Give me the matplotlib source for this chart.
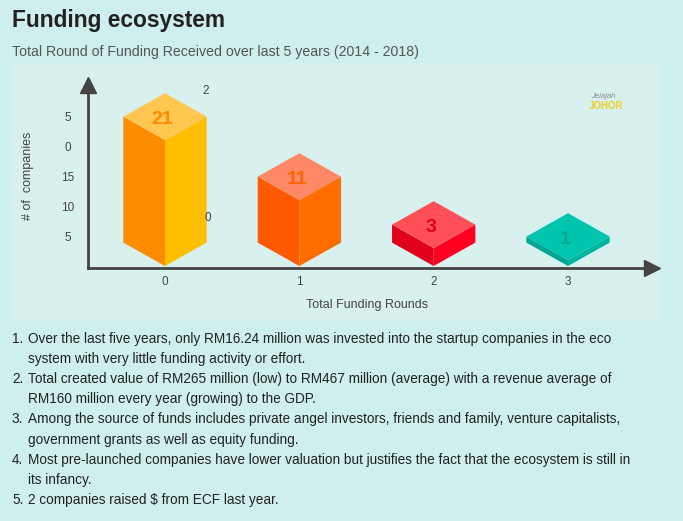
import matplotlib
matplotlib.use("Agg")
import matplotlib.pyplot as plt
from matplotlib.patches import Polygon, Rectangle

plt.rcParams["font.family"] = ["Liberation Sans", "DejaVu Sans"]

# ── Data ──────────────────────────────────────────────────────────────────────
rounds = [0, 1, 2, 3]
round_labels = ["0", "1", "2", "3"]
companies = [21, 11, 3, 1]

# y tick labels as printed in the source graphic (the "2"s drifted away)
ytick_values = [5, 10, 15, 20, 25]
ytick_labels = ["5", "10", "15", "0", "5"]

left_colors = ["#ff8c00", "#ff5a00", "#e0001c", "#00a694"]
right_colors = ["#ffbf00", "#ff6c00", "#ff0022", "#00b6a0"]
top_colors = ["#ffc650", "#ff8866", "#ff4f58", "#00c5ae"]
label_colors = ["#ff8a00", "#ff6400", "#e0001c", "#00a694"]

notes = [
    ("1.", ["Over the last five years, only RM16.24 million was invested into the startup companies in the eco",
            "system with very little funding activity or effort."]),
    ("2.", ["Total created value of RM265 million (low) to RM467 million (average) with a revenue average of",
            "RM160 million every year (growing) to the GDP."]),
    ("3.", ["Among the source of funds includes private angel investors, friends and family, venture capitalists,",
            "government grants as well as equity funding."]),
    ("4.", ["Most pre-launched companies have lower valuation but justifies the fact that the ecosystem is still in",
            "its infancy."]),
    ("5.", ["2 companies raised $ from ECF last year."]),
]

# ── Layout helpers (pixels -> figure fraction) ────────────────────────────────
W, H = 683, 521
OUTER_BG = "#ceefed"
PANEL_BG = "#d8f1ef"
AXIS_COL = "#444444"


def fx(x):
    return x / W


def fy(y):
    return 1 - y / H


fig = plt.figure(figsize=(W / 100, H / 100), dpi=100, facecolor=OUTER_BG)

# chart panel (drawn below the axes)
fig.patches.append(Rectangle((fx(12), fy(321)), (660 - 12) / W, (321 - 63) / H,
                             transform=fig.transFigure, facecolor=PANEL_BG,
                             edgecolor="none", zorder=-5))

fig.text(fx(12), fy(20), "Funding ecosystem", fontsize=16.4, fontweight="bold",
         color="#222222", va="center", ha="left")
fig.text(fx(12), fy(52), "Total Round of Funding Received over last 5 years (2014 - 2018)",
         fontsize=10.2, color="#555555", va="center", ha="left")

# ── Chart ─────────────────────────────────────────────────────────────────────
ax_left, ax_right, ax_top, ax_bottom = 88, 652, 85, 268
ax = fig.add_axes([fx(ax_left), fy(ax_bottom), (ax_right - ax_left) / W, (ax_bottom - ax_top) / H])
ax.set_facecolor("none")
ax.set_xlim(-0.573, 3.625)
ax.set_ylim(-0.333, 30.17)

HALF_W = 0.31   # half width of the box (x units)
RISE = 3.9      # isometric rise of the side corners (y units)

for x, v, cl, cr, ct, cl_txt in zip(rounds, companies, left_colors, right_colors,
                                     top_colors, label_colors):
    left = [(x, 0), (x, v), (x - HALF_W, v + RISE), (x - HALF_W, RISE)]
    right = [(x, 0), (x, v), (x + HALF_W, v + RISE), (x + HALF_W, RISE)]
    top = [(x, v), (x + HALF_W, v + RISE), (x, v + 2 * RISE), (x - HALF_W, v + RISE)]
    ax.add_patch(Polygon(left, closed=True, facecolor=cl, edgecolor="none", zorder=2))
    ax.add_patch(Polygon(right, closed=True, facecolor=cr, edgecolor="none", zorder=2))
    ax.add_patch(Polygon(top, closed=True, facecolor=ct, edgecolor="none", zorder=2))
    ax.text(x - 0.02, v + RISE - 0.4, str(v), ha="center", va="center",
            fontsize=14, fontweight="bold", color=cl_txt, zorder=3)

for side in ["top", "right"]:
    ax.spines[side].set_visible(False)
for side in ["left", "bottom"]:
    ax.spines[side].set_color(AXIS_COL)
    ax.spines[side].set_linewidth(2)

ax.plot(1, 0, marker=">", ms=11, color=AXIS_COL, transform=ax.transAxes, clip_on=False)
ax.plot(0, 1, marker="^", ms=11, color=AXIS_COL, transform=ax.transAxes, clip_on=False)

ax.set_xticks(rounds, round_labels)
ax.set_yticks(ytick_values, ytick_labels)
ax.tick_params(axis="x", length=0, pad=6, labelsize=8.5, labelcolor=AXIS_COL)
ax.tick_params(axis="y", length=0, pad=14.4, labelsize=8.5, labelcolor=AXIS_COL)
for lbl in ax.get_yticklabels():
    lbl.set_horizontalalignment("center")

# stray digits of the original graphic
ax.text(0.30, 29.2, "2", ha="center", va="center", fontsize=8.5, color=AXIS_COL)
ax.text(0.32, 8.0, "0", ha="center", va="center", fontsize=8.5, color=AXIS_COL)

fig.text(fx(367), fy(305), "Total Funding Rounds", fontsize=9, color=AXIS_COL,
         ha="center", va="center")
fig.text(fx(28), fy(176), "# of  companies", fontsize=9, color=AXIS_COL,
         ha="center", va="center", rotation=90)

# logo stand-in
fig.text(fx(603), fy(96), "Jelajah", fontsize=5.5, style="italic", color="#8a8a8a",
         ha="center", va="center")
fig.text(fx(606), fy(106), "JOHOR", fontsize=7, fontweight="bold", color="#f0d020",
         ha="center", va="center")

# ── Notes ─────────────────────────────────────────────────────────────────────
y = 339
for num, lines in notes:
    fig.text(fx(12), fy(y), num, fontsize=9.8, color="#222222", va="center", ha="left")
    for line in lines:
        fig.text(fx(28), fy(y), line, fontsize=9.8, color="#222222", va="center", ha="left")
        y += 20.1

fig.savefig("out.png", dpi=100, facecolor=OUTER_BG)
